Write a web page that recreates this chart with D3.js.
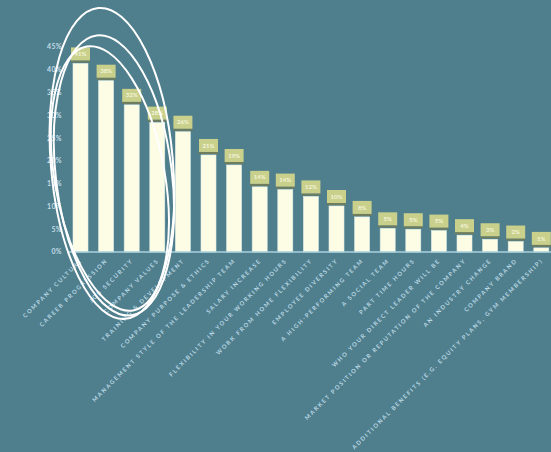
<!DOCTYPE html>
<html><head><meta charset="utf-8">
<script src="https://cdn.jsdelivr.net/npm/d3@7"></script>
<style>
html,body{margin:0;padding:0;background:#4f7e8d;}
svg{display:block;}
text{font-family:"Lato","Open Sans",sans-serif;}
</style></head>
<body>
<svg id="chart" width="551" height="452"></svg>
<script>
const categories = [
  "COMPANY CULTURE",
  "CAREER PROGRESSION",
  "JOB SECURITY",
  "COMPANY VALUES",
  "TRAINING & DEVELOPMENT",
  "COMPANY PURPOSE & ETHICS",
  "MANAGEMENT STYLE OF THE LEADERSHIP TEAM",
  "SALARY INCREASE",
  "FLEXIBILITY IN YOUR WORKING HOURS",
  "WORK FROM HOME FLEXIBILITY",
  "EMPLOYEE DIVERSITY",
  "A HIGH-PERFORMING TEAM",
  "A SOCIAL TEAM",
  "PART TIME HOURS",
  "WHO YOUR DIRECT LEADER WILL BE",
  "MARKET POSITION OR REPUTATION OF THE COMPANY",
  "AN INDUSTRY CHANGE",
  "COMPANY BRAND",
  "ADDITIONAL BENEFITS (E.G. EQUITY PLANS, GYM MEMBERSHIP)"
];
const values = [41.4, 37.6, 32.3, 28.4, 26.4, 21.3, 19.1, 14.3, 13.7, 12.2, 10.1, 7.7, 5.2, 5.0, 4.7, 3.7, 2.8, 2.3, 0.9];
const yTicks = [0, 5, 10, 15, 20, 25, 30, 35, 40, 45];

const svg = d3.select("#chart");
const x = d3.scaleBand().domain(categories).range([67.7, 554.1]).paddingInner(0.414).paddingOuter(0.207);
const y = d3.scaleLinear().domain([0, 45]).range([252, 47]);

// y tick labels
svg.append("g").selectAll("text").data(yTicks).join("text")
  .attr("x", 62).attr("y", d => y(d)).attr("dy", "0.35em")
  .attr("text-anchor", "end").attr("fill", "#c3dde7")
  .attr("font-size", 7).attr("font-weight", 700).attr("letter-spacing", 0.4)
  .text(d => d + "%");

// bars
const bw = x.bandwidth();
svg.append("g").selectAll("rect").data(values).join("rect")
  .attr("x", (d, i) => x(categories[i])).attr("width", bw)
  .attr("y", d => y(d)).attr("height", d => y(0) - y(d))
  .attr("fill", "#fdfce4").attr("stroke", "#dfeee6").attr("stroke-width", 0.6);

// value label boxes
const lab = svg.append("g").selectAll("g").data(values).join("g")
  .attr("transform", (d, i) => `translate(${x(categories[i]) + bw / 2},${y(d)})`);
lab.append("rect").attr("x", -9.5).attr("y", -3).attr("width", 19).attr("height", 2)
  .attr("fill", "#6f7d5c");
lab.append("rect").attr("x", -9.5).attr("y", -16).attr("width", 19).attr("height", 13)
  .attr("fill", "#c9d08c");
lab.append("text").attr("x", 0).attr("y", -9.5).attr("dy", "0.35em")
  .attr("text-anchor", "middle").attr("fill", "#f4f5dc")
  .attr("font-size", 6).attr("font-weight", 700)
  .text(d => Math.round(d) + "%");

// baseline
svg.append("line").attr("x1", x.range()[0]).attr("x2", 551)
  .attr("y1", y(0)).attr("y2", y(0))
  .attr("stroke", "#a9d2de").attr("stroke-width", 1.5);

// x labels
svg.append("g").selectAll("text").data(categories).join("text")
  .attr("transform", d => `translate(${x(d) + bw / 2 + 2},${y(0) + 9}) rotate(-45)`)
  .attr("text-anchor", "end").attr("fill", "#b9d8e4")
  .attr("font-size", 5.8).attr("font-weight", 700).attr("letter-spacing", 1.65)
  .text(d => d);

// hand-drawn annotation loops around the top four
const cx0 = (x(categories[0]) + x(categories[3]) + bw) / 2;
const cy0 = y(19);
const loops = [
  {dx: -7, dy: -2, rx: 61, ry: 156, rot: -5},
  {dx: -5, dy: 10, rx: 58, ry: 141, rot: -7},
  {dx: -9, dy: 13, rx: 55, ry: 134, rot: -10}
];
svg.append("g").selectAll("ellipse").data(loops).join("ellipse")
  .attr("cx", 0).attr("cy", 0).attr("rx", d => d.rx).attr("ry", d => d.ry)
  .attr("transform", d => `translate(${cx0 + d.dx},${cy0 + d.dy}) rotate(${d.rot})`)
  .attr("fill", "none").attr("stroke", "#ffffff").attr("stroke-width", 2);
</script>
</body></html>
